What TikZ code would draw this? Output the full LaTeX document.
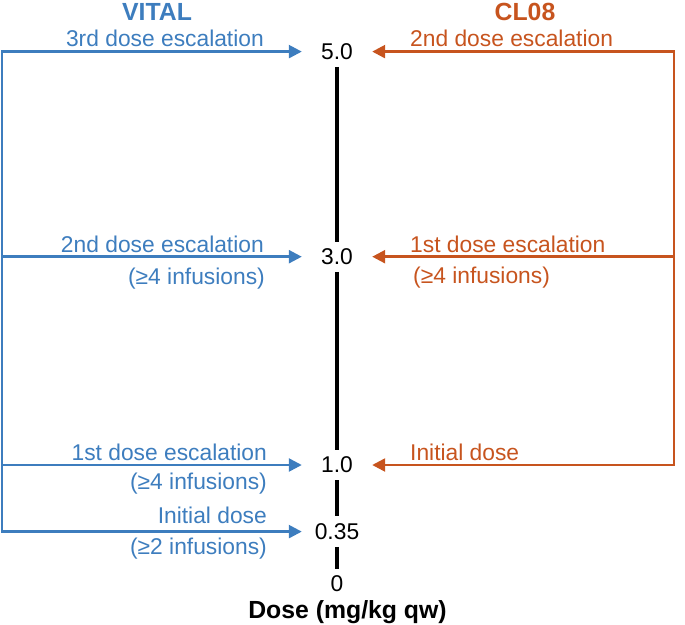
\documentclass[tikz,border=0pt]{standalone}
\usepackage{fontspec}
\setmainfont{Liberation Sans}
\usetikzlibrary{arrows.meta}
\definecolor{vblue}{RGB}{61,125,190}
\definecolor{corange}{RGB}{199,84,30}
\begin{document}
\begin{tikzpicture}[x=1pt,y=-1pt,
  >={Triangle[length=13pt,width=13pt]},
  lbl/.style={font=\fontsize{22.8}{26}\selectfont, inner sep=0pt},
  bl/.style={lbl, text=vblue, anchor=base east},
  cl/.style={lbl, text=corange, anchor=base west},
  dose/.style={lbl, minimum width=70pt, minimum height=30pt, text=black},
  title/.style={font=\fontsize{24.8}{30}\selectfont\bfseries, inner sep=0pt, anchor=base},
  vline/.style={draw=vblue, line width=2.5pt, line join=miter},
  cline/.style={draw=corange, line width=2.5pt, line join=miter},
  axis/.style={draw=black, line width=3.2pt}]
\useasboundingbox (0,0) rectangle (685,624);

% dose axis labels
\node[dose] (d50)  at (337,51.6) {5.0};
\node[dose] (d30)  at (337,256.7) {3.0};
\node[dose] (d10)  at (337,465) {1.0};
\node[dose] (d035) at (337,531.6) {0.35};
\node[dose] (d0)   at (337,584) {0};
\node[title, text=black] (axlbl) at (347.5,618) {Dose (mg/kg qw)};

% axis segments
\draw[axis] (d50.south) -- (d30.north);
\draw[axis] (d30.south) -- (d10.north);
\draw[axis] (d10.south) -- (d035.north);
\draw[axis] (d035.south) -- (d0.north);

% bracket columns
\coordinate (bcol) at (2,0);
\coordinate (ccol) at (674,0);

% titles
\node[title, text=vblue] (vital) at (157,20) {VITAL};
\node[title, text=corange] (cl08) at (525,20) {CL08};

% VITAL connectors
\draw[vline, <->] (d50.west) -- (d50.west -| bcol) -- (d035.west -| bcol) -- (d035.west);
\draw[vline, ->] (d30.west -| bcol) -- (d30.west);
\draw[vline, ->] (d10.west -| bcol) -- (d10.west);

% CL08 connectors
\draw[cline, <->] (d50.east) -- (d50.east -| ccol) -- (d10.east -| ccol) -- (d10.east);
\draw[cline, ->] (d30.east -| ccol) -- (d30.east);

% VITAL labels
\node[bl] (v3)  at (264,46) {3rd dose escalation};
\node[bl] (v2)  at (264,252) {2nd dose escalation};
\node[bl] (v2i) at (265,284) {(≥4 infusions)};
\node[bl] (v1)  at (267,460) {1st dose escalation};
\node[bl] (v1i) at (267,489) {(≥4 infusions)};
\node[bl] (v0)  at (267,523) {Initial dose};
\node[bl] (v0i) at (267,554) {(≥2 infusions)};

% CL08 labels
\node[cl] (c2)  at (410,46) {2nd dose escalation};
\node[cl] (c1)  at (410,252) {1st dose escalation};
\node[cl] (c1i) at (413,283) {(≥4 infusions)};
\node[cl] (c0)  at (410,460) {Initial dose};
\end{tikzpicture}
\end{document}
